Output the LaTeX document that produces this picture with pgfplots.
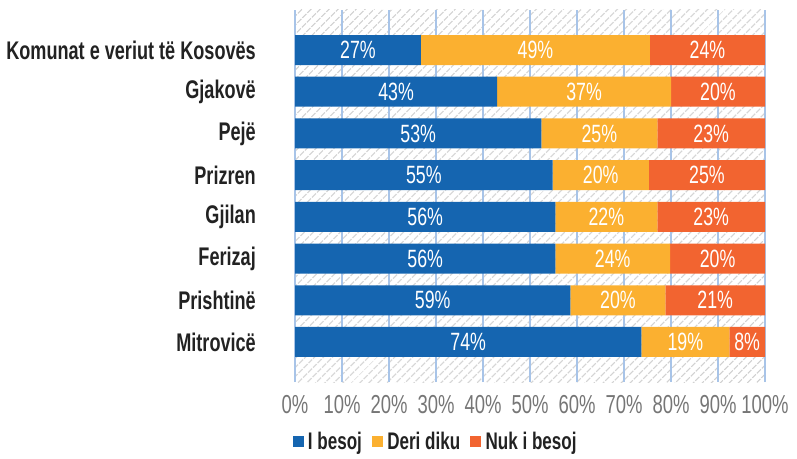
\documentclass[border=0pt]{standalone}
\usepackage{pgfplots}
\pgfplotsset{compat=1.18}
\usepackage{pgfplotstable}
\usepackage{fontspec}
\setmainfont{Liberation Sans}[FakeStretch=0.71]
\usetikzlibrary{patterns.meta}
\definecolor{cb}{HTML}{1565B0}
\definecolor{cy}{HTML}{FBB030}
\definecolor{cr}{HTML}{F26430}
\definecolor{gridb}{HTML}{A8C4E8}
\definecolor{tickc}{HTML}{767676}
\definecolor{labc}{HTML}{222222}
\definecolor{hatchc}{HTML}{D0D0D0}
\pgfplotstableread{
y b o r lb lo lr
7 26.8 48.7 24.5 27 49 24
6 43.0 37.0 20.0 43 37 20
5 52.4 24.7 22.9 53 25 23
4 54.8 20.5 24.7 55 20 25
3 55.4 21.7 22.9 56 22 23
2 55.4 24.4 20.2 56 24 20
1 58.6 20.2 21.2 59 20 21
0 73.7 18.7 7.6 74 19 8
}\data
\pgfplotsset{commonax/.style={
  at={(295pt,76pt)}, anchor=south west,
  scale only axis, width=470pt, height=372pt,
  xmin=0, xmax=100, ymin=-0.96, ymax=7.96}}
\begin{document}
\begin{tikzpicture}
\useasboundingbox (0,0) rectangle (797pt,458pt);
\begin{axis}[
  commonax,
  xbar stacked, bar width=30pt,
  xtick={0,10,...,100},
  xticklabel={\pgfmathprintnumber{\tick}\%},
  /pgf/number format/assume math mode=true,
  ytick={0,...,7},
  yticklabels={Mitrovicë,Prishtinë,Ferizaj,Gjilan,Prizren,Pejë,Gjakovë,Komunat e veriut të Kosovës},
  xmajorgrids, major grid style={gridb, line width=2pt},
  axis line style={draw=none}, major tick length=0pt,
  xticklabel style={font=\fontsize{26}{26}\selectfont, text=tickc, inner sep=0pt, yshift=-13pt},
  yticklabel style={font=\bfseries\fontsize{25.5}{26}\selectfont, text=labc, inner sep=0pt, xshift=-39pt},
  axis background/.style={pattern={Lines[angle=45,distance=6.5pt,line width=1.2pt]}, pattern color=hatchc},
  legend style={draw=none, fill=none, legend columns=-1, at={(0.299,-0.159)}, anchor=center,
    font=\bfseries\fontsize{24}{24}\selectfont, text=labc,
    /tikz/every odd column/.append style={column sep=3pt},
    /tikz/every even column/.append style={column sep=8pt}},
]
\addlegendimage{legend image code/.code={\fill[cb] (0pt,-5pt) rectangle (10pt,5pt);}}
\addlegendimage{legend image code/.code={\fill[cy] (0pt,-5pt) rectangle (10pt,5pt);}}
\addlegendimage{legend image code/.code={\fill[cr] (0pt,-5pt) rectangle (10pt,5pt);}}
\addplot[fill=cb, draw=none] table[x=b,y=y]{\data};
\addplot[fill=cy, draw=none] table[x=o,y=y]{\data};
\addplot[fill=cr, draw=none] table[x=r,y=y]{\data};
\legend{I besoj, Deri diku, Nuk i besoj}
\end{axis}
\begin{axis}[
  commonax, hide axis,
  nodes near coords={\pgfplotspointmeta\%},
  point meta=explicit symbolic,
  every node near coord/.append style={font=\fontsize{25}{25}\selectfont, text=white, anchor=center, inner sep=0pt},
]
\addplot[draw=none] table[x expr={\thisrow{b}/2}, y=y, meta=lb]{\data};
\addplot[draw=none] table[x expr={\thisrow{b}+\thisrow{o}/2}, y=y, meta=lo]{\data};
\addplot[draw=none] table[x expr={\thisrow{b}+\thisrow{o}+\thisrow{r}/2}, y=y, meta=lr]{\data};
\end{axis}
\end{tikzpicture}
\end{document}
